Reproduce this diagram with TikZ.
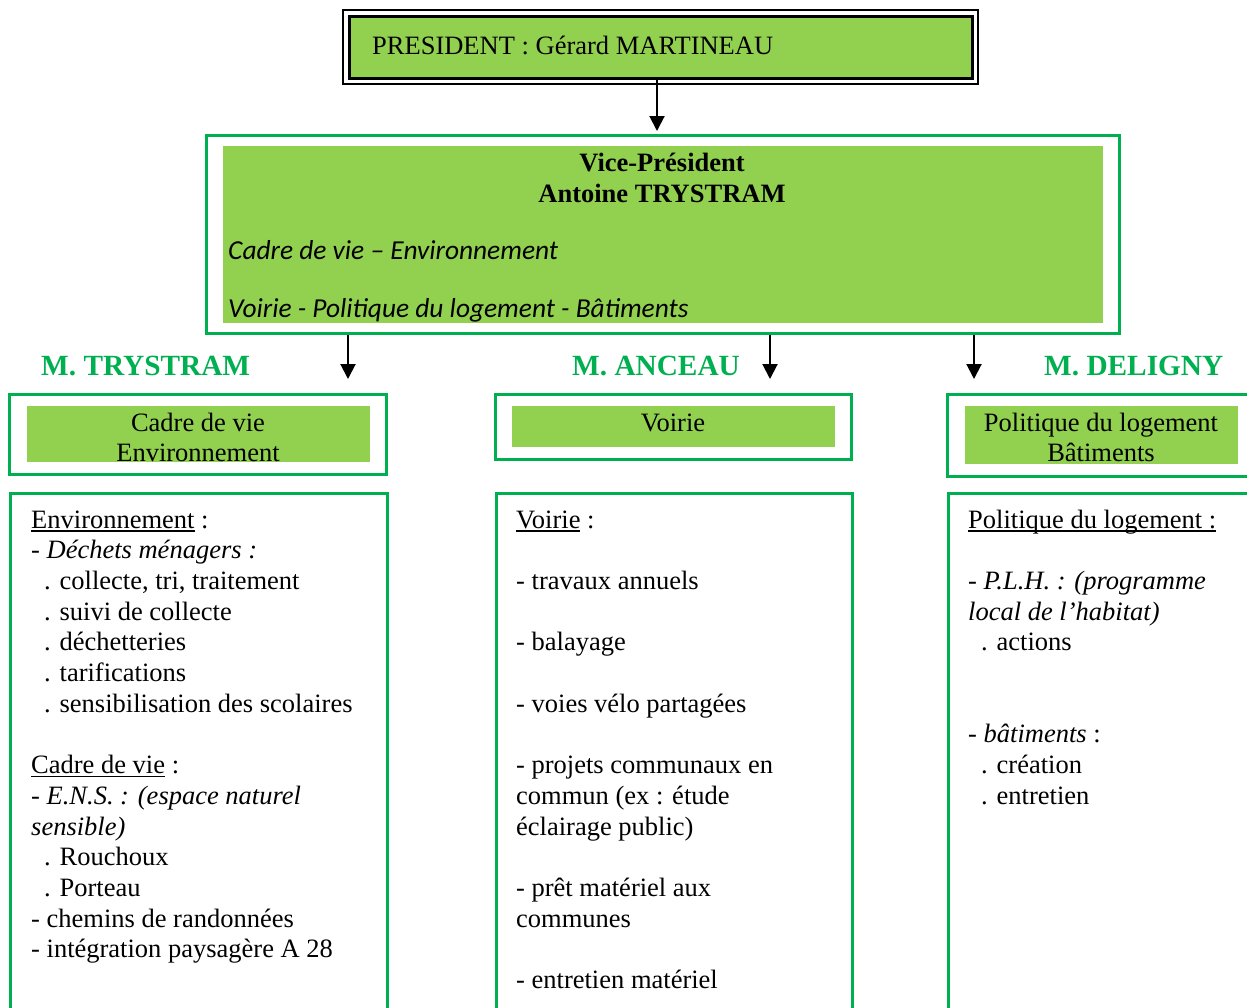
\documentclass[tikz,border=0pt]{standalone}
\usepackage{fontspec}
\setmainfont{Liberation Serif}
\newfontfamily\calib{Carlito}
\usetikzlibrary{arrows.meta}
\definecolor{dg}{HTML}{00B050}
\definecolor{lg}{HTML}{92D050}
\newcommand{\ind}{\hspace*{13pt}}
\newcommand{\myul}[1]{\leavevmode\setbox0\hbox{#1}\rlap{\rule[-3.5pt]{\wd0}{1.4pt}}\box0\relax}
\begin{document}
\begin{tikzpicture}[x=1pt,y=-1pt,
  body/.style={inner sep=0pt, font=\fontsize{26.5}{30.7}\selectfont},
  vpital/.style={inner sep=0pt, font=\calib\itshape\fontsize{27.4}{30.7}\selectfont},
  gbox/.style={draw=dg, line width=3pt, inner sep=0pt},
  fillbox/.style={fill=lg, inner sep=0pt},
  boss/.style={text=dg, inner sep=0pt, font=\fontsize{29.3}{33}\selectfont\bfseries},
  arr/.style={line width=2pt, -{Triangle[width=15pt,length=15pt]}}]
\useasboundingbox (0,0) rectangle (1247,1007);
\clip (0,0) rectangle (1247,1007);

% President
\node[fill=lg, draw=black, line width=3pt, minimum width=623pt, minimum height=62pt, inner sep=0pt] (pres) at (660.5,47) {};
\draw[line width=2pt] ([shift={(-4.5,-4.5)}]pres.north west) rectangle ([shift={(4.5,4.5)}]pres.south east);
\node[body, anchor=base west] (prestext) at (372,54) {PRESIDENT : Gérard MARTINEAU};

% Vice-president
\node[gbox, minimum width=913pt, minimum height=198pt] (vp) at (662.5,234) {};
\node[fillbox, minimum width=880pt, minimum height=177pt] (vpfill) at (663,234.5) {};
\node[body, anchor=base] (vpt1) at (662,171) {\bfseries Vice-Président};
\node[body, anchor=base] (vpt2) at (662,202) {\bfseries Antoine TRYSTRAM};
\node[vpital, anchor=base west] (vpt3) at (228,259) {Cadre de vie – Environnement};
\node[vpital, anchor=base west] (vpt4) at (228,317) {Voirie - Politique du logement - Bâtiments};

\coordinate (a0) at (657,131);
\draw[arr] (pres.south -| a0) -- (a0);

% Arrow ends
\coordinate (a1) at (348,379);
\coordinate (a2) at (770,379);
\coordinate (a3) at (974,379);
\draw[arr] (vp.south -| a1) -- (a1);
\draw[arr] (vp.south -| a2) -- (a2);
\draw[arr] (vp.south -| a3) -- (a3);

% Names
\node[boss, anchor=base west] (n1) at (41,375) {M. TRYSTRAM};
\node[boss, anchor=base west] (n2) at (572,375) {M. ANCEAU};
\node[boss, anchor=base west] (n3) at (1044,375) {M. DELIGNY};

% Header boxes
\node[gbox, minimum width=377pt, minimum height=80pt] (h1) at (197.5,434) {};
\node[fillbox, minimum width=343pt, minimum height=56pt] (h1f) at (198.5,434) {};
\node[body, anchor=base] (h1t) at (198,431) {\parbox[t]{330pt}{\centering Cadre de vie\\Environnement}};

\node[gbox, minimum width=356pt, minimum height=65pt] (h2) at (673,426.5) {};
\node[fillbox, minimum width=323pt, minimum height=41pt] (h2f) at (673.5,426.5) {};
\node[body, anchor=base] (h2t) at (673,431) {Voirie};

\node[gbox, minimum width=313pt, minimum height=82pt] (h3) at (1103.5,435) {};
\node[fillbox, minimum width=273pt, minimum height=58pt] (h3f) at (1101.5,435) {};
\node[body, anchor=base] (h3t) at (1101,431) {\parbox[t]{270pt}{\centering Politique du logement\\Bâtiments}};

% Content boxes
\node[gbox, minimum width=377pt, minimum height=540pt, anchor=north west] (c1) at (9,492) {};
\node[gbox, minimum width=356pt, minimum height=540pt, anchor=north west] (c2) at (495,492) {};
\node[gbox, minimum width=320pt, minimum height=540pt, anchor=north west] (c3) at (947,492) {};

\node[body, anchor=base west] (c1t) at (31,528) {\parbox[t]{400pt}{\raggedright
\myul{Environnement} :\\
- \textit{Déchets ménagers :}\\
\ind. collecte, tri, traitement\\
\ind. suivi de collecte\\
\ind. déchetteries\\
\ind. tarifications\\
\ind. sensibilisation des scolaires\\
\mbox{}\\
\myul{Cadre de vie} :\\
- \textit{E.N.S. : (espace naturel}\\
\textit{sensible)}\\
\ind. Rouchoux\\
\ind. Porteau\\
- chemins de randonnées\\
- intégration paysagère A 28}};

\node[body, anchor=base west] (c2t) at (516,528) {\parbox[t]{400pt}{\raggedright
\myul{Voirie} :\\
\mbox{}\\
- travaux annuels\\
\mbox{}\\
- balayage\\
\mbox{}\\
- voies vélo partagées\\
\mbox{}\\
- projets communaux en\\
commun (ex : étude\\
éclairage public)\\
\mbox{}\\
- prêt matériel aux\\
communes\\
\mbox{}\\
- entretien matériel}};

\node[body, anchor=base west] (c3t) at (968,528) {\parbox[t]{400pt}{\raggedright
\myul{Politique du logement :}\\
\mbox{}\\
\textit{- P.L.H. : (programme}\\
\textit{local de l’habitat)}\\
\ind. actions\\
\mbox{}\\
\mbox{}\\
- \textit{bâtiments} :\\
\ind. création\\
\ind. entretien}};
\end{tikzpicture}
\end{document}
